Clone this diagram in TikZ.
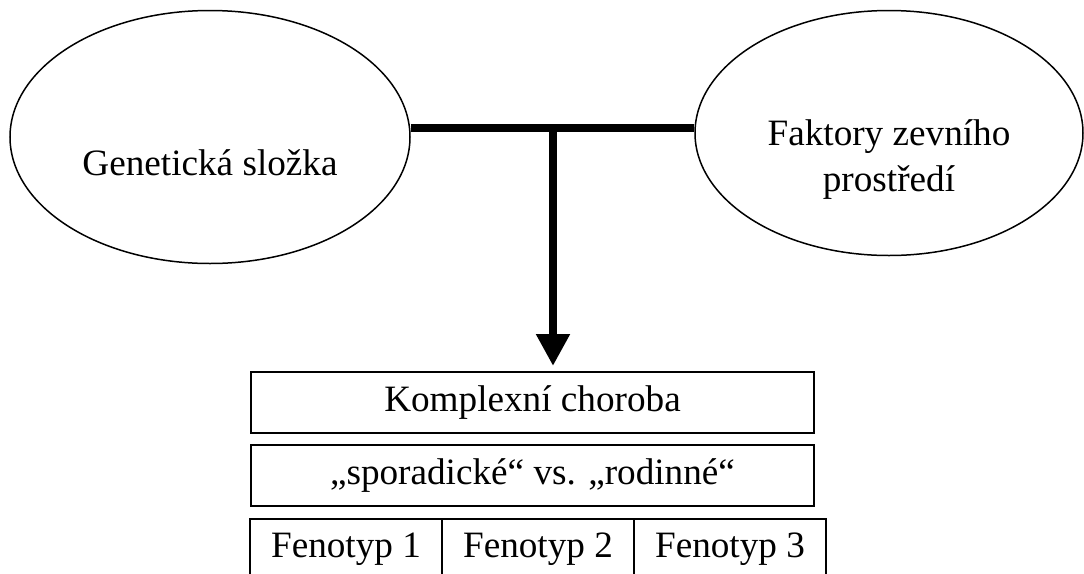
\documentclass[tikz,border=0pt]{standalone}
\usepackage{fontspec}
\setmainfont{Liberation Serif}
\usetikzlibrary{shapes,arrows.meta,positioning,calc}
\tikzset{
        factor/.style = {draw, ellipse, line width=0.75pt, inner sep=0pt},
        block/.style = {draw, rectangle, line width=1pt,
            minimum height=30.5pt,
            minimum width=281.5pt},
        cell/.style = {draw, rectangle, line width=1pt, outer sep=0pt,
            minimum height=30.5pt,
            minimum width=96pt},
        bar/.style = {line width=4.25pt},
        arrow/.style = {bar, -{Triangle[width=16pt,length=16pt]}, shorten >=2.5pt},
    }

\begin{document}
\begin{tikzpicture}[x=0.5pt,y=-0.5pt,font=\fontsize{18.6}{23}\selectfont]
    \useasboundingbox (0,0) rectangle (1084,574);
    \clip (0,0) rectangle (1084,574);

    \node[factor, minimum width=200pt, minimum height=126.5pt] (gen) at (210,137) {};
    \node[factor, minimum width=194pt, minimum height=122.5pt] (env) at (889,133) {};
    \node[below=13pt of gen.center, anchor=center] (genlbl) {Genetická složka};
    \node[below=13.5pt of env.center, anchor=center, align=center] (envlbl) {Faktory zevního\\prostředí};

    \node[block] (kc) at (532.5,402.5) {Komplexní choroba};
    \node[block, below=5pt of kc] (sp) {„sporadické“ vs. „rodinné“};
    \node[cell, below=6pt of sp.south west, anchor=north west] (fen1) {Fenotyp 1};
    \node[cell, right=0pt of fen1] (fen2) {Fenotyp 2};
    \node[cell, right=0pt of fen2] (fen3) {Fenotyp 3};

    \coordinate (jn) at (553,128);
    \draw[bar] (gen.east |- jn) -- (env.west |- jn);
    \draw[arrow] (jn) -- (jn |- kc.north);
\end{tikzpicture}
\end{document}
